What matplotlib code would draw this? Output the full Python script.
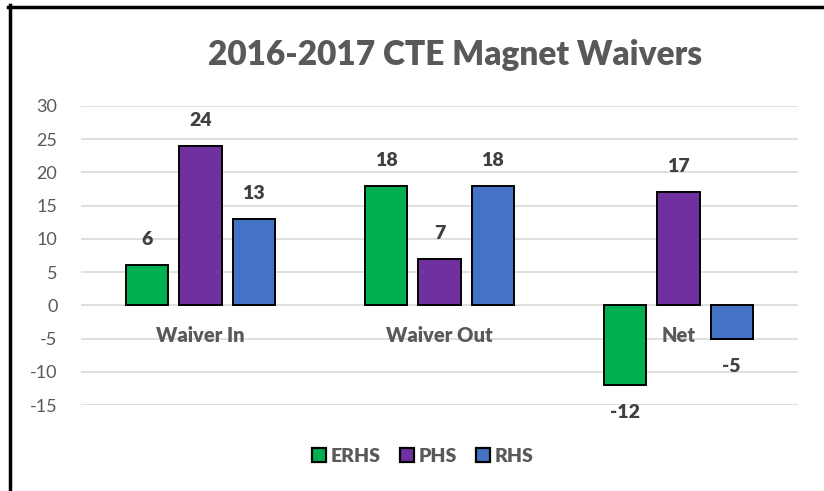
import matplotlib
matplotlib.use("Agg")
import matplotlib.pyplot as plt
from matplotlib.lines import Line2D
from matplotlib.patches import Patch
import numpy as np

plt.rcParams['font.family'] = ['Lato', 'DejaVu Sans']

categories = ["Waiver In", "Waiver Out", "Net"]
series_names = ["ERHS", "PHS", "RHS"]
erhs = [6, 18, -12]
phs = [24, 7, 17]
rhs = [13, 18, -5]
colors = ["#00B050", "#7030A0", "#4472C4"]
yticks = [-15, -10, -5, 0, 5, 10, 15, 20, 25, 30]

W, H = 824, 491
fig = plt.figure(figsize=(W / 100, H / 100), dpi=100)
ax = fig.add_axes([81 / W, 1 - 405 / H, 717 / W, 299 / H])

x = np.arange(len(categories))
bw = 0.176
step = 0.222
gray = "#404040"
BOLD = "heavy"
for i, (vals, name, c) in enumerate(zip([erhs, phs, rhs], series_names, colors)):
    xs = x + (i - 1) * step
    ax.bar(xs, vals, width=bw, color=c, edgecolor="black", linewidth=1.4, label=name, zorder=3)
    for xi, v in zip(xs, vals):
        off = 18.5 if v >= 0 else -20
        ax.annotate(str(v), (xi, v), xytext=(0, off), textcoords="offset points",
                    ha="center", va="center", fontsize=14, fontweight=BOLD, color=gray)

for xi, lab in zip(x, categories):
    ax.annotate(lab, (xi, 0), xytext=(0, -22), textcoords="offset points",
                ha="center", va="center", fontsize=14.5, fontweight=BOLD, color="#595959", zorder=4)

ax.set_xlim(-0.5, 2.5)
ax.set_ylim(-15, 30)
ax.set_yticks(yticks)
ax.set_yticklabels([str(t) for t in yticks], fontsize=13, color="#595959")
ax.tick_params(axis="y", length=0, pad=17)
ax.set_xticks([])
ax.grid(axis="y", color="#D9D9D9", linewidth=1.2, zorder=0)
for s in ax.spines.values():
    s.set_visible(False)

fig.text(455 / W, 1 - 55 / H, "2016-2017 CTE Magnet Waivers", ha="center", va="center",
         fontsize=24, fontweight=BOLD, color="#595959")

handles = [Patch(facecolor=c, edgecolor="black", linewidth=1.6) for c in colors]
leg = fig.legend(handles, series_names, loc="center", bbox_to_anchor=(423 / W, 1 - 456 / H),
                 ncol=3, frameon=False, handlelength=0.7, handleheight=0.7,
                 handletextpad=0.25, columnspacing=1.0,
                 prop={'weight': BOLD, 'size': 14})
for t in leg.get_texts():
    t.set_color("#595959")

fig.add_artist(Line2D([8 / W, 1], [1 - 6.5 / H, 1 - 6.5 / H], color="black", linewidth=2.5))
fig.add_artist(Line2D([9.5 / W, 9.5 / W], [0, 1 - 5 / H], color="black", linewidth=2.5))

fig.savefig("out.png", dpi=100)
